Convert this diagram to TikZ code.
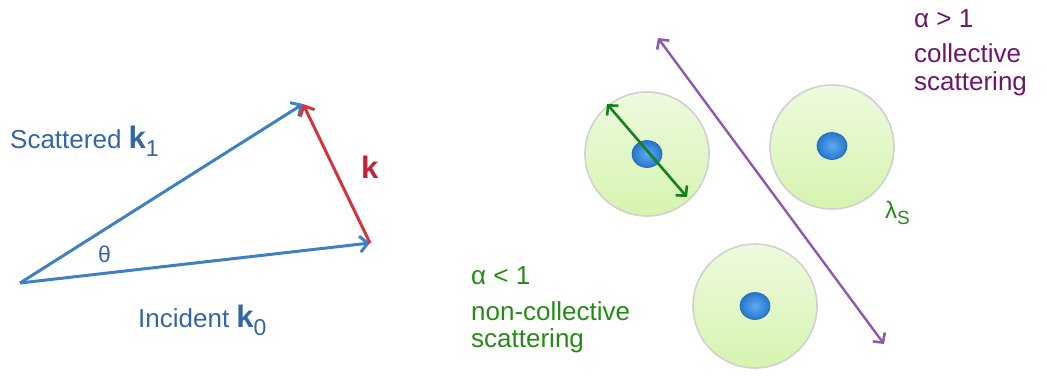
\documentclass[tikz,border=0pt]{standalone}
\usepackage{fontspec}
\setmainfont{Liberation Sans}
\usetikzlibrary{arrows.meta,shapes.geometric}
\definecolor{vblue}{RGB}{62,128,196}
\definecolor{tblue}{RGB}{52,100,170}
\definecolor{vred}{RGB}{212,52,62}
\definecolor{tred}{RGB}{196,34,52}
\definecolor{vpurple}{RGB}{140,90,172}
\definecolor{tpurple}{RGB}{108,22,108}
\definecolor{vgreen}{RGB}{22,128,30}
\definecolor{tgreen}{RGB}{38,138,22}
\definecolor{cfilltop}{RGB}{238,250,222}
\definecolor{cfillbot}{RGB}{214,244,176}
\definecolor{dotin}{RGB}{95,170,240}
\definecolor{dotout}{RGB}{38,118,205}
\tikzset{
  vec/.style={line width=3pt,-{Straight Barb[length=8pt,width=16pt,line width=3pt]}},
  dvec/.style={line width=2.6pt,{Straight Barb[length=7pt,width=15pt,line width=2.6pt]}-{Straight Barb[length=7pt,width=15pt,line width=2.6pt]}},
  lbl/.style={anchor=base west,inner sep=0pt,font=\fontsize{26}{30}\selectfont},
  cloud/.style={circle,minimum size=124pt,inner sep=0pt,draw=black!18,line width=1.6pt,top color=cfilltop,bottom color=cfillbot},
  ion/.style={ellipse,minimum width=30pt,minimum height=27pt,inner sep=0pt,inner color=dotin,outer color=dotout,draw=dotout!85!black,line width=0.6pt},
}
\newcommand{\bigk}{{\fontsize{31}{31}\selectfont\bfseries k}}
\newcommand{\subn}[1]{\raisebox{-8pt}{\fontsize{23}{23}\selectfont #1}}
\begin{document}
\begin{tikzpicture}[x=1pt,y=-1pt]
\useasboundingbox (0,0) rectangle (1047,376);
% left: vector triangle
\coordinate (O) at (20,283);
\coordinate (T) at (303,104);
\coordinate (R) at (370,243);
\draw[vec,vblue] (O) -- (T);
\draw[vec,vblue] (O) -- (R);
\draw[vec,vred] (R) -- (T);
\node[lbl,text=tblue] (scat) at (10,148) {Scattered \bigk\subn{1}};
\node[lbl,text=tblue] (inc) at (138,327) {Incident \bigk\subn{0}};
\node[lbl,text=tred] (kk) at (361,178) {\bigk};
\node[lbl,text=tblue,font=\fontsize{23}{23}\selectfont] (th) at (98,262) {θ};
% right: clouds
\node[cloud] (c1) at (647,154) {};
\node[cloud] (c2) at (832,147) {};
\node[cloud] (c3) at (755,306) {};
\node[ion] (i1) at (647,154) {};
\node[ion] (i2) at (832,146) {};
\node[ion] (i3) at (755,306) {};
\coordinate (ga) at (607,104);
\coordinate (gb) at (687,197);
\draw[dvec,vgreen,line width=2.6pt] (ga) -- (gb);
\coordinate (pa) at (658,38);
\coordinate (pb) at (884,344);
\draw[dvec,vpurple,line width=2.4pt] (pa) -- (pb);
\node[lbl,text=tgreen,font=\fontsize{24}{24}\selectfont] (lam) at (885,218) {λ\raisebox{-6pt}{\fontsize{19}{19}\selectfont S}};
% text
\node[lbl,text=tpurple] (a1) at (914,27) {α > 1};
\node[lbl,text=tpurple] (a2) at (914,62) {collective};
\node[lbl,text=tpurple] (a3) at (914,90) {scattering};
\node[lbl,text=tgreen] (b1) at (471,284) {α < 1};
\node[lbl,text=tgreen] (b2) at (471,320) {non-collective};
\node[lbl,text=tgreen] (b3) at (471,347) {scattering};
\end{tikzpicture}
\end{document}
